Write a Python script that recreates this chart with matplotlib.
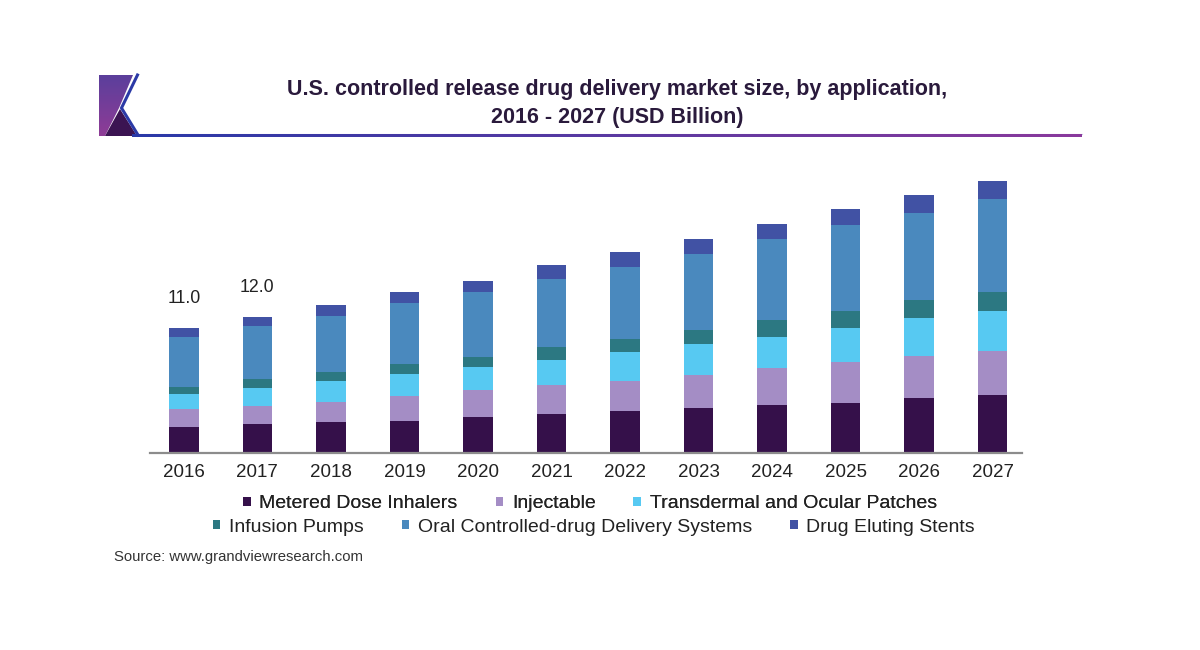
import numpy as np
import matplotlib
matplotlib.use('Agg')
import matplotlib.pyplot as plt
from matplotlib.patches import Polygon
from matplotlib.colors import to_rgb

plt.rcParams['font.family'] = ['Liberation Sans', 'DejaVu Sans']

# ---------------- data ----------------
years = ['2016', '2017', '2018', '2019', '2020', '2021',
         '2022', '2023', '2024', '2025', '2026', '2027']
series_names = ['Metered Dose Inhalers', 'Injectable', 'Transdermal and Ocular Patches',
                'Infusion Pumps', 'Oral Controlled-drug Delivery Systems', 'Drug Eluting Stents']
metered = [2.22, 2.52, 2.67, 2.81, 3.16, 3.37, 3.69, 3.90, 4.19, 4.40, 4.78, 5.07]
injectable = [1.59, 1.61, 1.81, 2.18, 2.36, 2.59, 2.65, 2.94, 3.29, 3.56, 3.74, 3.91]
transdermal = [1.35, 1.59, 1.86, 1.91, 2.00, 2.20, 2.56, 2.71, 2.74, 3.07, 3.32, 3.54]
infusion = [0.65, 0.77, 0.79, 0.91, 0.94, 1.18, 1.09, 1.26, 1.47, 1.46, 1.62, 1.67]
oral = [4.36, 4.68, 4.92, 5.41, 5.73, 5.97, 6.41, 6.75, 7.15, 7.56, 7.70, 8.16]
stents = [0.84, 0.82, 0.97, 0.92, 0.95, 1.24, 1.32, 1.26, 1.33, 1.42, 1.57, 1.64]
total_labels = ['11.0', '12.0']  # shown for the first two years

colors = ['#35104a', '#a48dc5', '#57c9f2', '#2c7882', '#4a89be', '#4152a4']

# ---------------- figure ----------------
W, H = 1200, 650
fig = plt.figure(figsize=(W / 100, H / 100), dpi=100)
fig.patch.set_facecolor('white')

# decoration overlay in pixel coordinates
deco = fig.add_axes([0, 0, 1, 1], zorder=0)
deco.set_xlim(0, W)
deco.set_ylim(H, 0)
deco.axis('off')

# logo: gradient purple block
purple_poly = Polygon([(99, 75), (133, 75), (119, 108), (105, 136), (99, 136)],
                      closed=True, facecolor='none', edgecolor='none')
deco.add_patch(purple_poly)
grad = np.linspace(0, 1, 100)[:, None]
c1, c2 = np.array(to_rgb('#5b3f9c')), np.array(to_rgb('#8f3c96'))
img = c1[None, None, :] * (1 - grad[..., None]) + c2[None, None, :] * grad[..., None]
img = np.repeat(img, 2, axis=1)
im = deco.imshow(img, extent=(99, 135, 136, 75), aspect='auto', zorder=1)
im.set_clip_path(purple_poly)
deco.add_patch(Polygon([(105, 136), (120, 109), (137, 136)], closed=True,
                       facecolor='#3b1452', edgecolor='none', zorder=2))
deco.plot([137.5, 121.5, 138], [75, 108, 135], color='#2b3aa6', lw=2.2, zorder=3,
          solid_joinstyle='miter')

# gradient rule under title (horizontal colour ramp)
ramp = np.linspace(0, 1, 300)[None, :, None]
ca, cb = np.array(to_rgb('#2a39a8')), np.array(to_rgb('#8a3a9c'))
rimg = ca[None, None, :] * (1 - ramp) + cb[None, None, :] * ramp
deco.imshow(rimg, extent=(132, 1082, 137.3, 134.9), aspect='auto', zorder=3,
            interpolation='bilinear')
deco.plot([138, 1082], [133.6, 133.6], color='#c9c6e4', lw=0.8, zorder=2)

# title
tx_c = 617 / W
fig.text(tx_c, 1 - 90 / H, 'U.S. controlled release drug delivery market size, by application,',
         ha='center', va='center', fontsize=15.5, fontweight='bold', color='#2a1a3c')
fig.text(tx_c, 1 - 117 / H, '2016 - 2027 (USD Billion)',
         ha='center', va='center', fontsize=15.5, fontweight='bold', color='#2a1a3c')

# ---------------- bars ----------------
ax = fig.add_axes([150 / W, 1 - 452.5 / H, 872 / W, (26 * 11.33) / H], zorder=2)
ax.patch.set_alpha(0)
x = np.arange(len(years))
data = [metered, injectable, transdermal, infusion, oral, stents]
bottom = np.zeros(len(years))
handles = []
for vals, col, name in zip(data, colors, series_names):
    bc = ax.bar(x, vals, width=0.40, bottom=bottom, color=col, label=name,
                edgecolor='none')
    handles.append(bc)
    bottom = bottom + np.array(vals)

for i, lab in enumerate(total_labels):
    ax.annotate(lab, (x[i], bottom[i]), xytext=(0, 15), textcoords='offset points',
                ha='center', va='bottom', fontsize=12.8, color='#222222')

ax.set_xlim(-0.46, 11.4)
ax.set_ylim(0, 26)
ax.set_xticks(x)
ax.set_xticklabels(years, fontsize=13.5, color='#222222')
ax.tick_params(axis='x', length=0, pad=8)
ax.set_yticks([])
for s in ['top', 'right', 'left']:
    ax.spines[s].set_visible(False)
ax.spines['bottom'].set_color('#8c8c8c')
ax.spines['bottom'].set_linewidth(1.6)

# ---------------- legend (two centred rows) ----------------
leg_kw = dict(loc='center', frameon=False, fontsize=14, ncol=3,
              handlelength=0.38, handleheight=0.36, handletextpad=0.45,
              columnspacing=1.95, borderpad=0, borderaxespad=0)
leg1 = fig.legend(handles[:3], series_names[:3], bbox_to_anchor=(590 / W, 1 - 504 / H), **leg_kw)
for tx in leg1.get_texts():
    tx.set_color('#222222')
fig.add_artist(leg1)
leg2 = fig.legend(handles[3:], series_names[3:], bbox_to_anchor=(594 / W, 1 - 527 / H), **leg_kw)
for tx in leg2.get_texts():
    tx.set_color('#222222')

# source
fig.text(114 / W, 1 - 557 / H, 'Source: www.grandviewresearch.com', ha='left', va='center',
         fontsize=10.7, color='#333333')

fig.savefig('out.png', dpi=100, facecolor='white')
